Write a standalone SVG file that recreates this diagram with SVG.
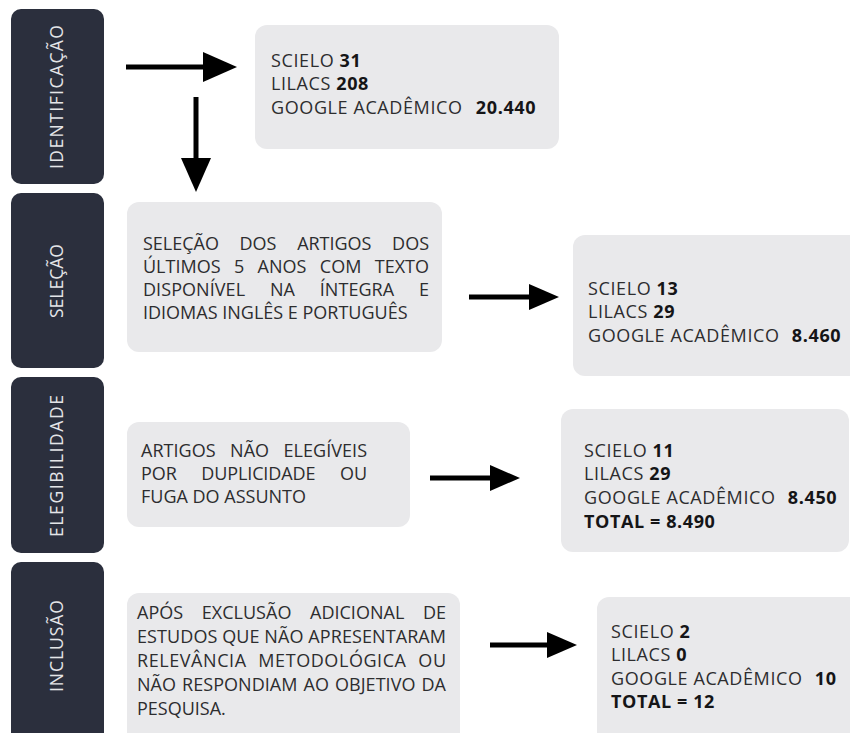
<svg xmlns="http://www.w3.org/2000/svg" width="850" height="733" viewBox="0 0 850 733">
<defs>
<style>
.tab{fill:#2b2f3d}
.tabtxt{font-family:"Open Sans","Liberation Sans",sans-serif;font-size:17.5px;font-weight:500;fill:#e4e5e8;text-anchor:middle}
.box{fill:#e9e9eb}
.t{font-family:"Open Sans","Liberation Sans",sans-serif;font-size:18px;font-weight:500;fill:#2d2d2f;letter-spacing:0.6px}
.d{font-family:"Open Sans","Liberation Sans",sans-serif;font-size:18px;font-weight:500;fill:#2d2d2f}
.b{font-weight:bold;fill:#151517}
.arr{stroke:#000;stroke-width:5;fill:none}
.big{marker-end:url(#ahL)}
.small{marker-end:url(#ahS)}
</style>
<marker id="ahL" markerUnits="userSpaceOnUse" markerWidth="36" markerHeight="32" refX="2" refY="15" orient="auto">
<path d="M0,0 L34,15 L0,30 Z" fill="#000"/>
</marker>
<marker id="ahS" markerUnits="userSpaceOnUse" markerWidth="32" markerHeight="28" refX="2" refY="13" orient="auto">
<path d="M0,0 L30,13 L0,26 Z" fill="#000"/>
</marker>
</defs>
<rect width="850" height="733" fill="#fff"/>

<g id="tab-identificacao">
<rect class="tab" x="11" y="9" width="93" height="175" rx="10"/>
<text class="tabtxt" transform="translate(57,97) rotate(-90)" y="6" textLength="144">IDENTIFICAÇÃO</text>
</g>
<g id="tab-selecao">
<rect class="tab" x="11" y="193" width="93" height="175" rx="10"/>
<text class="tabtxt" transform="translate(57,281) rotate(-90)" y="6" textLength="74">SELEÇÃO</text>
</g>
<g id="tab-elegibilidade">
<rect class="tab" x="11" y="377" width="93" height="176" rx="10"/>
<text class="tabtxt" transform="translate(57,466) rotate(-90)" y="6" textLength="142">ELEGIBILIDADE</text>
</g>
<g id="tab-inclusao">
<rect class="tab" x="11" y="562" width="93" height="185" rx="10"/>
<text class="tabtxt" transform="translate(57,646) rotate(-90)" y="6" textLength="92">INCLUSÃO</text>
</g>

<g id="box-identificacao">
<rect class="box" x="255" y="25" width="304" height="124" rx="12"/>
<text class="t" x="271" y="67">SCIELO <tspan class="b">31</tspan></text>
<text class="t" x="271" y="90">LILACS <tspan class="b">208</tspan></text>
<text class="t" x="271" y="114">GOOGLE ACADÊMICO <tspan class="b" dx="8">20.440</tspan></text>
</g>

<g id="box-selecao">
<rect class="box" x="127" y="202" width="315" height="150" rx="12"/>
<text class="d" x="143" y="250" word-spacing="16" textLength="286" lengthAdjust="spacing">SELEÇÃO DOS ARTIGOS DOS</text>
<text class="d" x="143" y="273" word-spacing="8.7" textLength="286" lengthAdjust="spacing">ÚLTIMOS 5 ANOS COM TEXTO</text>
<text class="d" x="143" y="296" word-spacing="20" textLength="286" lengthAdjust="spacing">DISPONÍVEL NA ÍNTEGRA E</text>
<text class="d" x="143" y="319">IDIOMAS INGLÊS E PORTUGUÊS</text>
</g>

<g id="box-selecao-resultado">
<rect class="box" x="573" y="235" width="290" height="141" rx="12"/>
<text class="t" x="588" y="295">SCIELO <tspan class="b">13</tspan></text>
<text class="t" x="588" y="318">LILACS <tspan class="b">29</tspan></text>
<text class="t" x="588" y="342">GOOGLE ACADÊMICO <tspan class="b" dx="7">8.460</tspan></text>
</g>

<g id="box-elegibilidade">
<rect class="box" x="127" y="422" width="283" height="105" rx="12"/>
<text class="d" x="141" y="457" word-spacing="9.6" textLength="226" lengthAdjust="spacing">ARTIGOS NÃO ELEGÍVEIS</text>
<text class="d" x="141" y="480" word-spacing="20" textLength="226" lengthAdjust="spacing">POR DUPLICIDADE OU</text>
<text class="d" x="141" y="503">FUGA DO ASSUNTO</text>
</g>

<g id="box-elegibilidade-resultado">
<rect class="box" x="561" y="409" width="288" height="143" rx="12"/>
<text class="t" x="584" y="457">SCIELO <tspan class="b">11</tspan></text>
<text class="t" x="584" y="480">LILACS <tspan class="b">29</tspan></text>
<text class="t" x="584" y="504">GOOGLE ACADÊMICO <tspan class="b" dx="7">8.450</tspan></text>
<text class="t b" x="584" y="528">TOTAL = 8.490</text>
</g>

<g id="box-inclusao">
<rect class="box" x="127" y="593" width="333" height="160" rx="12"/>
<text class="d" x="137" y="619" word-spacing="13.9" textLength="309" lengthAdjust="spacing">APÓS EXCLUSÃO ADICIONAL DE</text>
<text class="d" x="137" y="643" textLength="309" lengthAdjust="spacing">ESTUDOS QUE NÃO APRESENTARAM</text>
<text class="d" x="137" y="667" word-spacing="6.5" textLength="309" lengthAdjust="spacing">RELEVÂNCIA METODOLÓGICA OU</text>
<text class="d" x="137" y="691" word-spacing="1.3" textLength="309" lengthAdjust="spacing">NÃO RESPONDIAM AO OBJETIVO DA</text>
<text class="d" x="137" y="715">PESQUISA.</text>
</g>

<g id="box-inclusao-resultado">
<rect class="box" x="597" y="597" width="266" height="150" rx="12"/>
<text class="t" x="611" y="638">SCIELO <tspan class="b">2</tspan></text>
<text class="t" x="611" y="661">LILACS <tspan class="b">0</tspan></text>
<text class="t" x="611" y="685">GOOGLE ACADÊMICO <tspan class="b" dx="7">10</tspan></text>
<text class="t b" x="611" y="708">TOTAL = 12</text>
</g>

<g id="connectors">
<line class="arr big" x1="126" y1="67" x2="205" y2="67"/>
<line class="arr big" x1="196" y1="97" x2="196" y2="160"/>
<line class="arr small" x1="469" y1="297" x2="531" y2="297"/>
<line class="arr small" x1="430" y1="478" x2="492" y2="478"/>
<line class="arr small" x1="490" y1="645" x2="549" y2="645"/>
</g>
</svg>
